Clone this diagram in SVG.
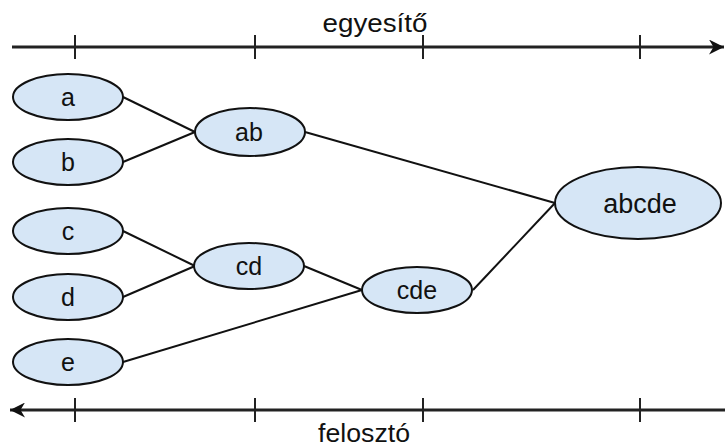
<svg xmlns="http://www.w3.org/2000/svg" width="725" height="447" viewBox="0 0 725 447">
<style>
.node ellipse{fill:#d6e6f6;stroke:#111;stroke-width:2}
.node text{font-family:"Liberation Sans",Arial,sans-serif;font-size:25px;fill:#111;text-anchor:middle}
.axis line{stroke:#222;stroke-width:3}
.axis .tick{stroke-width:2}
.lbl{font-family:"Liberation Sans",Arial,sans-serif;font-size:25px;fill:#111;text-anchor:middle}
#connectors line{stroke:#111;stroke-width:2}
</style>
<defs>
<marker id="ah" viewBox="0 0 10 10" refX="10" refY="5" markerWidth="5" markerHeight="5" orient="auto-start-reverse" markerUnits="strokeWidth">
<path d="M0,0 L10,5 L0,10 L3,5 Z" fill="#111"/>
</marker>
</defs>
<rect width="725" height="447" fill="#fff"/>
<g id="axis-top" class="axis">
<line x1="12" y1="47" x2="724" y2="47" marker-end="url(#ah)"/>
<line class="tick" x1="75" y1="35" x2="75" y2="59"/>
<line class="tick" x1="255" y1="35" x2="255" y2="59"/>
<line class="tick" x1="423" y1="35" x2="423" y2="59"/>
<line class="tick" x1="640" y1="35" x2="640" y2="59"/>
<text class="lbl" x="375" y="32" textLength="105" lengthAdjust="spacingAndGlyphs">egyesítő</text>
</g>
<g id="axis-bottom" class="axis">
<line x1="10" y1="410" x2="725" y2="410" marker-start="url(#ah)"/>
<line class="tick" x1="75" y1="398" x2="75" y2="422"/>
<line class="tick" x1="255" y1="398" x2="255" y2="422"/>
<line class="tick" x1="423" y1="398" x2="423" y2="422"/>
<line class="tick" x1="640" y1="398" x2="640" y2="422"/>
<text class="lbl" x="364" y="442" textLength="92" lengthAdjust="spacingAndGlyphs">felosztó</text>
</g>
<g id="connectors">
<line x1="123" y1="97" x2="195" y2="132"/>
<line x1="123" y1="162" x2="195" y2="132"/>
<line x1="123" y1="231" x2="195" y2="266"/>
<line x1="123" y1="297" x2="195" y2="266"/>
<line x1="123" y1="362" x2="362" y2="290"/>
<line x1="304" y1="266" x2="362" y2="290"/>
<line x1="305" y1="132" x2="555" y2="203"/>
<line x1="473" y1="290" x2="555" y2="203"/>
</g>
<g id="a" class="node"><ellipse cx="68" cy="97" rx="55" ry="23"/><text x="68" y="106">a</text></g>
<g id="b" class="node"><ellipse cx="68" cy="162" rx="55" ry="23"/><text x="68" y="171">b</text></g>
<g id="c" class="node"><ellipse cx="68" cy="231" rx="55" ry="23"/><text x="68" y="240">c</text></g>
<g id="d" class="node"><ellipse cx="68" cy="297" rx="55" ry="23"/><text x="68" y="306">d</text></g>
<g id="e" class="node"><ellipse cx="68" cy="362" rx="55" ry="23"/><text x="68" y="371">e</text></g>
<g id="ab" class="node"><ellipse cx="250" cy="132" rx="55" ry="24"/><text x="249" y="141">ab</text></g>
<g id="cd" class="node"><ellipse cx="249" cy="266" rx="55" ry="23"/><text x="249" y="275">cd</text></g>
<g id="cde" class="node"><ellipse cx="417" cy="290" rx="55" ry="23"/><text x="417" y="299">cde</text></g>
<g id="abcde" class="node"><ellipse cx="638" cy="203" rx="83" ry="36"/><text x="640" y="213" style="font-size:27px">abcde</text></g>
</svg>
